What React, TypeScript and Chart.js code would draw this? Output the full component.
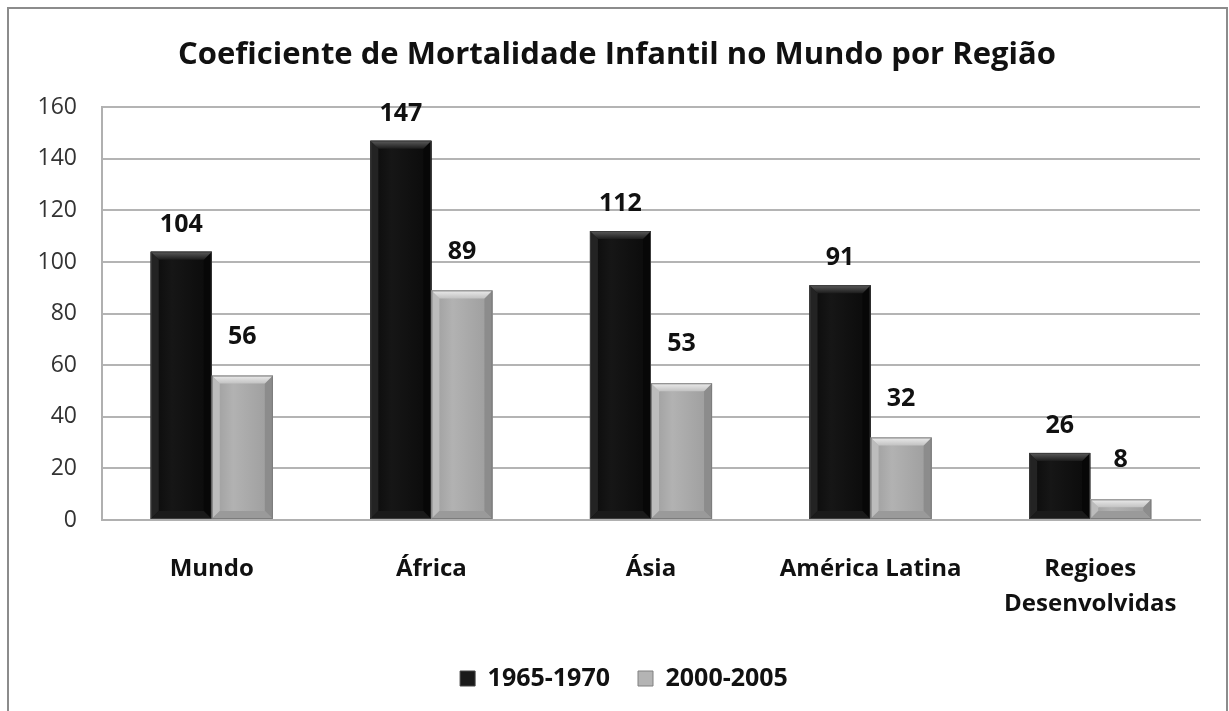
import { useEffect, useRef } from "react";
import { Chart, registerables } from "chart.js";

Chart.register(...registerables);

const TITLE = "Coeficiente de Mortalidade Infantil no Mundo por Região";
const categories: (string | string[])[] = ["Mundo", "África", "Ásia", "América Latina", ["Regioes", "Desenvolvidas"]];
const seriesNames = ["1965-1970", "2000-2005"];
const values1965 = [104, 147, 112, 91, 26];
const values2000 = [56, 89, 53, 32, 8];
const yMin = 0;
const yMax = 160;
const yStep = 20;

const FONT = "'Open Sans', Lato, sans-serif";
const W = 1229;
const H = 711;

const palettes = [
  {
    base: "#121212",
    edge: "#0a0a0a",
    mid: "#161616",
    topA: "#5c5c5c",
    topB: "#1c1c1c",
    left: "#232323",
    right: "#070707",
    bottom: "#1a1a1a",
    outline: "#3c3c3c",
    labelOffset: 27,
  },
  {
    base: "#a8a8a8",
    edge: "#9c9c9c",
    mid: "#b2b2b2",
    topA: "#ececec",
    topB: "#c2c2c2",
    left: "#bcbcbc",
    right: "#8c8c8c",
    bottom: "#9a9a9a",
    outline: "#7c7c7c",
    labelOffset: 39,
  },
];

const framePlugin = {
  id: "frame",
  beforeDraw(chart: any) {
    const ctx = chart.ctx;
    ctx.save();
    ctx.fillStyle = "#ffffff";
    ctx.fillRect(0, 0, chart.width, chart.height);
    ctx.strokeStyle = "#8c8c8c";
    ctx.lineWidth = 2;
    ctx.beginPath();
    ctx.moveTo(8, chart.height + 2);
    ctx.lineTo(8, 8);
    ctx.lineTo(chart.width - 2, 8);
    ctx.lineTo(chart.width - 2, chart.height + 2);
    ctx.stroke();
    ctx.restore();
  },
};

// centre the title and legend under the whole frame rather than the plot area
const centreShiftPlugin = {
  id: "centreShift",
  afterLayout(chart: any) {
    const lg = chart.legend;
    if (lg) {
      const shift = 24;
      lg.left += shift;
      lg.right += shift;
      if (lg.legendHitBoxes) lg.legendHitBoxes.forEach((hb: any) => (hb.left += shift));
    }
    const tt = chart.titleBlock;
    if (tt) {
      const shift = 17;
      tt.left += shift;
      tt.right += shift;
    }
  },
};

const bevelPlugin = {
  id: "bevel",
  afterDatasetsDraw(chart: any) {
    const ctx = chart.ctx;
    ctx.save();
    chart.data.datasets.forEach((_ds: any, di: number) => {
      const meta = chart.getDatasetMeta(di);
      const p = palettes[di];
      meta.data.forEach((el: any) => {
        const { x, y, base, width } = el.getProps(["x", "y", "base", "width"], true);
        const l = x - width / 2;
        const r = x + width / 2;
        const t = Math.min(y, base);
        const b = Math.max(y, base);
        const bv = Math.min(8, (b - t) / 2, width / 4);
        const body = ctx.createLinearGradient(l, 0, r, 0);
        body.addColorStop(0, p.edge);
        body.addColorStop(0.35, p.mid);
        body.addColorStop(1, p.edge);
        ctx.fillStyle = body;
        ctx.fillRect(l, t, r - l, b - t);
        ctx.fillStyle = p.left;
        ctx.beginPath();
        ctx.moveTo(l, t);
        ctx.lineTo(l + bv, t + bv);
        ctx.lineTo(l + bv, b - bv);
        ctx.lineTo(l, b);
        ctx.closePath();
        ctx.fill();
        ctx.fillStyle = p.right;
        ctx.beginPath();
        ctx.moveTo(r, t);
        ctx.lineTo(r - bv, t + bv);
        ctx.lineTo(r - bv, b - bv);
        ctx.lineTo(r, b);
        ctx.closePath();
        ctx.fill();
        ctx.fillStyle = p.bottom;
        ctx.beginPath();
        ctx.moveTo(l, b);
        ctx.lineTo(l + bv, b - bv);
        ctx.lineTo(r - bv, b - bv);
        ctx.lineTo(r, b);
        ctx.closePath();
        ctx.fill();
        const tg = ctx.createLinearGradient(0, t, 0, t + bv);
        tg.addColorStop(0, p.topA);
        tg.addColorStop(1, p.topB);
        ctx.fillStyle = tg;
        ctx.beginPath();
        ctx.moveTo(l, t);
        ctx.lineTo(r, t);
        ctx.lineTo(r - bv, t + bv);
        ctx.lineTo(l + bv, t + bv);
        ctx.closePath();
        ctx.fill();
        ctx.strokeStyle = p.outline;
        ctx.lineWidth = 1;
        ctx.strokeRect(l + 0.5, t + 0.5, r - l - 1, b - t - 1);
      });
    });
    ctx.restore();
  },
};

const labelPlugin = {
  id: "valueLabels",
  afterDatasetsDraw(chart: any) {
    const ctx = chart.ctx;
    ctx.save();
    ctx.font = `bold 25px ${FONT}`;
    ctx.fillStyle = "#111111";
    ctx.textAlign = "center";
    ctx.textBaseline = "middle";
    chart.data.datasets.forEach((ds: any, di: number) => {
      const meta = chart.getDatasetMeta(di);
      meta.data.forEach((el: any, i: number) => {
        const { x, y } = el.getProps(["x", "y"], true);
        ctx.fillText(String(ds.data[i]), x, y - palettes[di].labelOffset);
      });
    });
    ctx.restore();
  },
};

export default function App() {
  const ref = useRef<HTMLCanvasElement | null>(null);

  useEffect(() => {
    document.body.style.margin = "0";
    const canvas = ref.current;
    if (!canvas) return;
    const chart = new Chart(canvas, {
      type: "bar",
      data: {
        labels: categories as any,
        datasets: [
          {
            label: seriesNames[0],
            data: values1965,
            backgroundColor: palettes[0].base,
            borderWidth: 0,
            categoryPercentage: 0.556,
            barPercentage: 1,
          },
          {
            label: seriesNames[1],
            data: values2000,
            backgroundColor: palettes[1].base,
            borderWidth: 0,
            categoryPercentage: 0.556,
            barPercentage: 1,
          },
        ],
      },
      options: {
        responsive: false,
        animation: false,
        devicePixelRatio: 1,
        layout: { padding: { left: 0, right: 29, top: 0, bottom: 10 } },
        plugins: {
          tooltip: { enabled: false },
          title: {
            display: true,
            text: TITLE,
            color: "#111111",
            font: { family: FONT, size: 31, weight: "bold", lineHeight: 1.2 },
            padding: { top: 37, bottom: 33 },
          },
          legend: {
            display: true,
            position: "bottom",
            labels: {
              color: "#111111",
              font: { family: FONT, size: 25, weight: "bold" },
              boxWidth: 15,
              boxHeight: 15,
              padding: 28,
              generateLabels: (chart: any) =>
                chart.data.datasets.map((ds: any, i: number) => ({
                  text: ds.label,
                  fillStyle: i === 0 ? "#1a1a1a" : "#b4b4b4",
                  strokeStyle: i === 0 ? "#444444" : "#808080",
                  lineWidth: 1,
                  hidden: false,
                  datasetIndex: i,
                  fontColor: "#111111",
                })),
            },
          },
        },
        scales: {
          x: {
            grid: { display: false, drawTicks: false, tickLength: 0 },
            border: { display: true, color: "#b0b0b0", width: 2 },
            ticks: {
              color: "#111111",
              font: { family: FONT, size: 24, weight: "bold", lineHeight: 1.45 },
              padding: 32,
              maxRotation: 0,
              autoSkip: false,
            },
            afterFit: (s: any) => {
              s.height = 118;
            },
          },
          y: {
            min: yMin,
            max: yMax,
            grid: { color: "#b4b4b4", lineWidth: 2, drawTicks: false, tickLength: 0 },
            border: { display: true, color: "#b0b0b0", width: 2 },
            ticks: {
              stepSize: yStep,
              color: "#333333",
              font: { family: FONT, size: 23 },
              padding: 25,
            },
            afterFit: (s: any) => {
              s.width = 102;
            },
          },
        },
      },
      plugins: [framePlugin, centreShiftPlugin, bevelPlugin, labelPlugin],
    });
    return () => chart.destroy();
  }, []);

  return (
    <div style={{ position: "absolute", left: 0, top: 0, width: W, height: H }}>
      <canvas ref={ref} width={W} height={H} style={{ display: "block", width: W, height: H }} />
    </div>
  );
}
